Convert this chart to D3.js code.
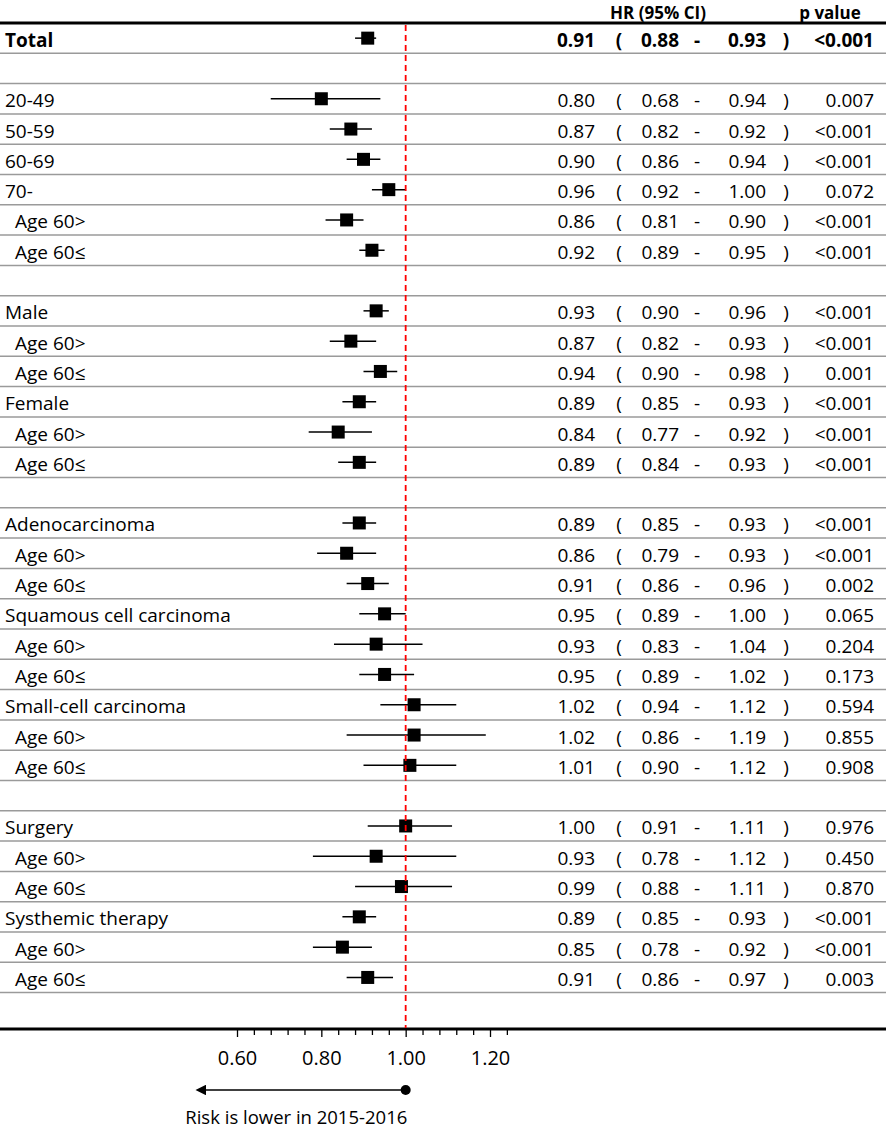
<!DOCTYPE html>
<html lang="en">
<head>
<meta charset="UTF-8">
<title>Forest plot</title>
<script src="https://cdn.jsdelivr.net/npm/d3@7"></script>
<style>
  body { margin: 0; background: #fff; }
  svg text { font-family: "Open Sans", Lato, sans-serif; fill: #000; }
</style>
</head>
<body>
<div id="chart"></div>
<script>
// row labels, top to bottom ("" = spacer row)
var labels = ["Total", "", "20-49", "50-59", "60-69", "70-", "Age 60>", "Age 60\u2264", "",
  "Male", "Age 60>", "Age 60\u2264", "Female", "Age 60>", "Age 60\u2264", "",
  "Adenocarcinoma", "Age 60>", "Age 60\u2264", "Squamous cell carcinoma", "Age 60>", "Age 60\u2264",
  "Small-cell carcinoma", "Age 60>", "Age 60\u2264", "",
  "Surgery", "Age 60>", "Age 60\u2264", "Systhemic therapy", "Age 60>", "Age 60\u2264"];
var hr = [0.91, null, 0.80, 0.87, 0.90, 0.96, 0.86, 0.92, null,
  0.93, 0.87, 0.94, 0.89, 0.84, 0.89, null,
  0.89, 0.86, 0.91, 0.95, 0.93, 0.95, 1.02, 1.02, 1.01, null,
  1.00, 0.93, 0.99, 0.89, 0.85, 0.91];
var ciLow = [0.88, null, 0.68, 0.82, 0.86, 0.92, 0.81, 0.89, null,
  0.90, 0.82, 0.90, 0.85, 0.77, 0.84, null,
  0.85, 0.79, 0.86, 0.89, 0.83, 0.89, 0.94, 0.86, 0.90, null,
  0.91, 0.78, 0.88, 0.85, 0.78, 0.86];
var ciHigh = [0.93, null, 0.94, 0.92, 0.94, 1.00, 0.90, 0.95, null,
  0.96, 0.93, 0.98, 0.93, 0.92, 0.93, null,
  0.93, 0.93, 0.96, 1.00, 1.04, 1.02, 1.12, 1.19, 1.12, null,
  1.11, 1.12, 1.11, 0.93, 0.92, 0.97];
var pValues = ["<0.001", null, "0.007", "<0.001", "<0.001", "0.072", "<0.001", "<0.001", null,
  "<0.001", "<0.001", "0.001", "<0.001", "<0.001", "<0.001", null,
  "<0.001", "<0.001", "0.002", "0.065", "0.204", "0.173", "0.594", "0.855", "0.908", null,
  "0.976", "0.450", "0.870", "<0.001", "<0.001", "0.003"];
var majorTicks = [0.60, 0.80, 1.00, 1.20];
var minorTicks = [0.64, 0.68, 0.72, 0.76, 0.84, 0.88, 0.92, 0.96, 1.04, 1.08, 1.12, 1.16, 1.24];
var refValue = 1.00;
var arrowEnd = 0.505;
var arrowText = "Risk is lower in 2015-2016";

var width = 886, height = 1131;
var tableTop = 23, rowH = 30.3;
var tableBottom = tableTop + labels.length * rowH;
var axisY = 1029;

var svg = d3.select("#chart").append("svg")
  .attr("width", width).attr("height", height);

var x = d3.scaleLinear().domain([0.6, 1.2]).range([237, 490]);
var y = d3.scaleBand().domain(d3.range(labels.length)).range([tableTop, tableBottom]);

var rows = labels.map(function(l, i) {
  return { label: l, hr: hr[i], lo: ciLow[i], hi: ciHigh[i], p: pValues[i], i: i };
});

// grey row separators
svg.append("g").selectAll("line")
  .data(rows)
  .join("line")
  .attr("x1", 0).attr("x2", width)
  .attr("y1", d => y(d.i) + rowH).attr("y2", d => y(d.i) + rowH)
  .attr("stroke", "#9a9a9a").attr("stroke-width", 1.5);

// header
svg.append("line").attr("x1", 0).attr("x2", width).attr("y1", tableTop).attr("y2", tableTop)
  .attr("stroke", "#000").attr("stroke-width", 3);
var head = svg.append("g").style("font-weight", "bold").style("font-size", "17px");
head.append("text").attr("x", 658).attr("y", 18.5).attr("text-anchor", "middle").text("HR (95% CI)");
head.append("text").attr("x", 830).attr("y", 18.5).attr("text-anchor", "middle").text("p value");

// text columns
var cols = [
  { x: 595, anchor: "end", f: d => d.hr.toFixed(2) },
  { x: 619, anchor: "middle", f: d => "(" },
  { x: 679, anchor: "end", f: d => d.lo.toFixed(2) },
  { x: 697, anchor: "middle", f: d => "-" },
  { x: 766, anchor: "end", f: d => d.hi.toFixed(2) },
  { x: 786, anchor: "middle", f: d => ")" },
  { x: 874, anchor: "end", f: d => d.p }
];

var rowG = svg.append("g").selectAll("g")
  .data(rows)
  .join("g")
  .attr("transform", d => "translate(0," + (y(d.i) + rowH / 2) + ")")
  .style("font-size", "19px")
  .style("font-weight", d => d.i === 0 ? "bold" : "normal");

rowG.append("text")
  .attr("x", d => d.label.indexOf("Age 60") === 0 ? 15 : 5)
  .attr("y", 8.5)
  .text(d => d.label);

var dataRows = rowG.filter(d => d.hr != null);
cols.forEach(function(c) {
  dataRows.append("text")
    .attr("x", c.x).attr("y", 8.5)
    .attr("text-anchor", c.anchor)
    .text(c.f);
});

// CI lines and squares
dataRows.append("line")
  .attr("x1", d => x(d.lo)).attr("x2", d => x(d.hi))
  .attr("stroke", "#000").attr("stroke-width", 1.5);
dataRows.append("rect")
  .attr("x", d => x(d.hr) - 6.5).attr("y", -6.5)
  .attr("width", 13).attr("height", 13)
  .attr("fill", "#000");

// axis
svg.append("line").attr("x1", 0).attr("x2", width).attr("y1", axisY).attr("y2", axisY)
  .attr("stroke", "#000").attr("stroke-width", 3);

var minorAxis = svg.append("g").attr("transform", "translate(0," + (axisY + 1) + ")")
  .call(d3.axisBottom(x).tickValues(minorTicks).tickSize(5).tickFormat(""));
var majorAxis = svg.append("g").attr("transform", "translate(0," + (axisY + 1) + ")")
  .call(d3.axisBottom(x).tickValues(majorTicks).tickSize(7).tickPadding(14).tickFormat(d3.format(".2f")));
[minorAxis, majorAxis].forEach(function(a) {
  a.select(".domain").remove();
  a.selectAll("line").attr("stroke", "#000").attr("stroke-width", 1.3);
});
majorAxis.selectAll("text").style("font-size", "20px").attr("fill", "#000")
  .style("font-family", "'Open Sans', Lato, sans-serif");

// reference line
svg.append("line")
  .attr("x1", x(refValue)).attr("x2", x(refValue))
  .attr("y1", tableTop + 2).attr("y2", axisY - 1)
  .attr("stroke", "#ff0000").attr("stroke-width", 1.8)
  .attr("stroke-dasharray", "6,4");

// arrow annotation
var arrowY = 1090;
svg.append("defs").append("marker")
  .attr("id", "arrowhead").attr("viewBox", "0 0 10 10")
  .attr("refX", 1).attr("refY", 5)
  .attr("markerWidth", 7).attr("markerHeight", 7)
  .attr("orient", "auto-start-reverse")
  .append("path").attr("d", "M0,0L10,5L0,10Z").attr("fill", "#000");
svg.append("line")
  .attr("x1", x(refValue)).attr("x2", x(arrowEnd) + 8)
  .attr("y1", arrowY).attr("y2", arrowY)
  .attr("stroke", "#000").attr("stroke-width", 1.5)
  .attr("marker-end", "url(#arrowhead)");
svg.append("circle").attr("cx", x(refValue)).attr("cy", arrowY).attr("r", 5).attr("fill", "#000");
svg.append("text")
  .attr("x", (x(refValue) + x(arrowEnd)) / 2 - 5).attr("y", 1124)
  .attr("text-anchor", "middle").style("font-size", "18.5px")
  .text(arrowText);
</script>
</body>
</html>
